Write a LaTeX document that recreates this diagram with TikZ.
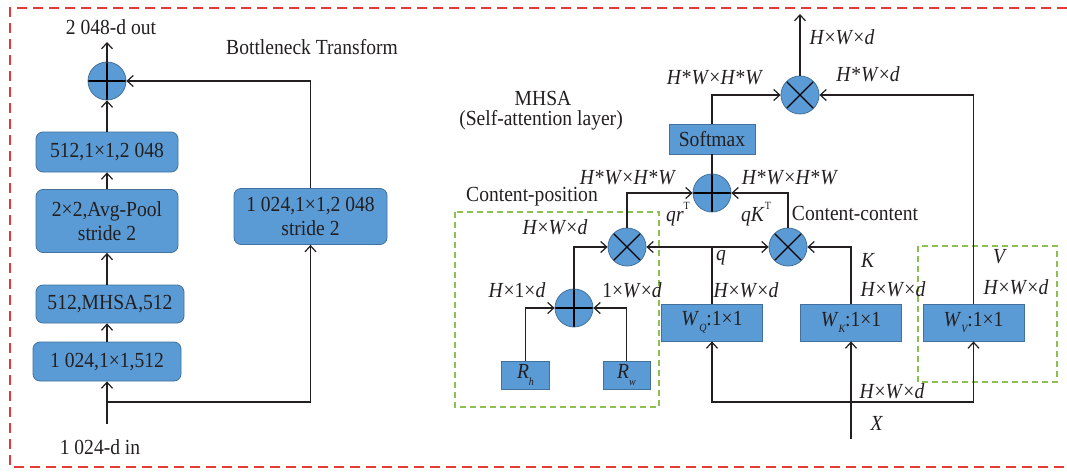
\documentclass[tikz,border=0pt]{standalone}
\usepackage{fontspec}
\setmainfont{Liberation Serif}[FakeStretch=0.91]
\usetikzlibrary{arrows.meta}
\definecolor{bfill}{HTML}{5B9BD5}
\definecolor{bdraw}{HTML}{41719C}
\definecolor{rdash}{HTML}{E53935}
\definecolor{gdash}{HTML}{8CC152}
\definecolor{txt}{HTML}{231F20}
\newcommand{\sups}[1]{\raisebox{0.55em}{\fontsize{11}{11}\selectfont\upshape #1}}
\newcommand{\subs}[1]{\raisebox{-0.3em}{\fontsize{11}{11}\selectfont\itshape #1}}
\newcommand{\HWd}{\textit{H}×\textit{W}×\textit{d}}
\newcommand{\HWHW}{\textit{H}*\textit{W}×\textit{H}*\textit{W}}
\begin{document}
\begin{tikzpicture}[x=1pt,y=-1pt,
  font=\fontsize{21.5}{24}\selectfont,
  line width=1.2pt, txt,
  arr/.style={-{Straight Barb[length=6pt,width=11pt,line width=1.2pt]}},
  rbox/.style={draw=bdraw, fill=bfill, rounded corners=7pt, line width=0.8pt, inner sep=0pt, align=center, text=txt},
  sbox/.style={draw=bdraw, fill=bfill, line width=0.8pt, inner sep=0pt, text=txt},
  plusc/.style={circle, draw=bdraw, fill=bfill, line width=0.8pt, minimum size=38pt, inner sep=0pt,
    path picture={\draw[black,line width=1.3pt] (path picture bounding box.north) -- (path picture bounding box.south)
      (path picture bounding box.west) -- (path picture bounding box.east);}},
  crossc/.style={circle, draw=bdraw, fill=bfill, line width=0.8pt, minimum size=38pt, inner sep=0pt,
    path picture={\draw[black,line width=1.3pt] (path picture bounding box.north west) -- (path picture bounding box.south east)
      (path picture bounding box.north east) -- (path picture bounding box.south west);}},
  lbl/.style={inner sep=0pt, text=txt},
  frame/.style={draw=rdash, line width=1.3pt, dash pattern=on 10pt off 6pt},
  gbox/.style={draw=gdash, line width=1.3pt, dash pattern=on 6pt off 4pt}]
\useasboundingbox (0,0) rectangle (1067,471);
\fill[white] (0,0) rectangle (1067,471);
\draw[frame] (1067,8) -- (10,8) -- (10,467) -- (1067,467);

% ---------- left: bottleneck ----------
\node[plusc] (plusL) at (107,81) {};
\node[rbox, minimum width=142pt, minimum height=40pt] (b1) at (107,152) {512,1×1,2 048};
\node[rbox, minimum width=142pt, minimum height=63pt] (b2) at (107,221) {2×2,Avg-Pool\\stride 2};
\node[rbox, minimum width=148pt, minimum height=38pt] (b3) at (110,304) {512,MHSA,512};
\node[rbox, minimum width=148pt, minimum height=39pt] (b4) at (107,361.5) {1 024,1×1,512};
\node[rbox, minimum width=153pt, minimum height=56pt] (rb) at (310.5,216.5) {1 024,1×1,2 048\\stride 2};
\coordinate (outL) at (107,42);
\coordinate (inL) at (107,424);
\coordinate (brL) at (107,402);
\node[lbl] (tout) at (111,27) {2 048-d out};
\node[lbl] (tin) at (100,447) {1 024-d in};
\node[lbl] (tbt) at (312,47) {Bottleneck Transform};

\draw[arr] (plusL.north) -- (outL);
\draw[arr] (b1.north) -- (plusL.south);
\draw[arr] (b2.north) -- (b1.south);
\draw[arr] (b3.north -| b2.south) -- (b2.south);
\draw[arr] (b4.north) -- (b4.north |- b3.south);
\draw[arr] (inL) -- (b4.south);
\draw[arr] (brL) -| (rb.south);
\draw[arr] (rb.north) |- (plusL.east);

% ---------- right: MHSA ----------
\draw[gbox] (455,212) rectangle (659,407);
\draw[gbox] (918,246) rectangle (1057,382);

\node[crossc] (mulT) at (800,95) {};
\node[sbox, minimum width=86pt, minimum height=30pt] (soft) at (712,139) {Softmax};
\node[plusc] (plusM) at (712,193) {};
\node[crossc] (mulL) at (627,247) {};
\node[crossc] (mulR) at (788,247) {};
\node[plusc] (plusS) at (574,308) {};
\node[sbox, minimum width=48pt, minimum height=28pt] (Rh) at (525.5,375) {\textit{R}\subs{h}};
\node[sbox, minimum width=47pt, minimum height=28pt] (Rw) at (626.5,375) {\textit{R}\subs{w}};
\node[sbox, minimum width=101pt, minimum height=37pt] (WQ) at (712,322.5) {\textit{W}\subs{Q}:1×1};
\node[sbox, minimum width=101pt, minimum height=37pt] (WK) at (851,322.5) {\textit{W}\subs{K}:1×1};
\node[sbox, minimum width=101pt, minimum height=37pt] (WV) at (973.5,322.5) {\textit{W}\subs{V}:1×1};
\coordinate (outR) at (800,14);
\coordinate (xin) at (851,439);
\coordinate (brR) at (851,402);
\coordinate (qj) at (712,247);

\draw[arr] (mulT.north) -- (outR);
\draw[arr] (soft.north) |- (mulT.west);
\draw[arr] (WV.north) |- (mulT.east);
\draw (plusM.north) -- (soft.south);
\draw[arr] (mulL.north) |- (plusM.west);
\draw[arr] (mulR.north) |- (plusM.east);
\draw[arr] (plusS.north) |- (mulL.west);
\draw (WQ.north) -- (qj);
\draw[arr] (qj) -- (mulL.east);
\draw[arr] (qj) -- (mulR.west);
\draw[arr] (WK.north) |- (mulR.east);
\draw[arr] (Rh.north) |- (plusS.west);
\draw[arr] (Rw.north) |- (plusS.east);
\draw[arr] (xin) -- (WK.south);
\draw[arr] (brR) -| (WQ.south);
\draw[arr] (brR) -| (WV.south);

% labels
\node[lbl] at (842,37) {\HWd};
\node[lbl] at (715,78) {\HWHW};
\node[lbl] at (868,74) {\textit{H}*\textit{W}×\textit{d}};
\node[lbl] at (543,98) {MHSA};
\node[lbl] at (541,120) {(Self-attention layer)};
\node[lbl] at (628,178) {\HWHW};
\node[lbl] at (790,178) {\HWHW};
\node[lbl] at (532,197) {Content-position};
\node[lbl] at (678,214) {\textit{qr}\sups{T}};
\node[lbl] at (756,214) {\textit{qK}\sups{T}};
\node[lbl] at (855,213) {Content-content};
\node[lbl] at (555,227) {\HWd};
\node[lbl] at (517,290) {\textit{H}×1×\textit{d}};
\node[lbl] at (632,290) {1×\textit{W}×\textit{d}};
\node[lbl] at (721,258) {\textit{q}};
\node[lbl] at (746,290) {\HWd};
\node[lbl] at (868,260) {\textit{K}};
\node[lbl] at (893,289) {\HWd};
\node[lbl] at (1000,257) {\textit{V}};
\node[lbl] at (1016,287) {\HWd};
\node[lbl] at (892,391) {\HWd};
\node[lbl] at (877,423) {\textit{X}};
\end{tikzpicture}
\end{document}
